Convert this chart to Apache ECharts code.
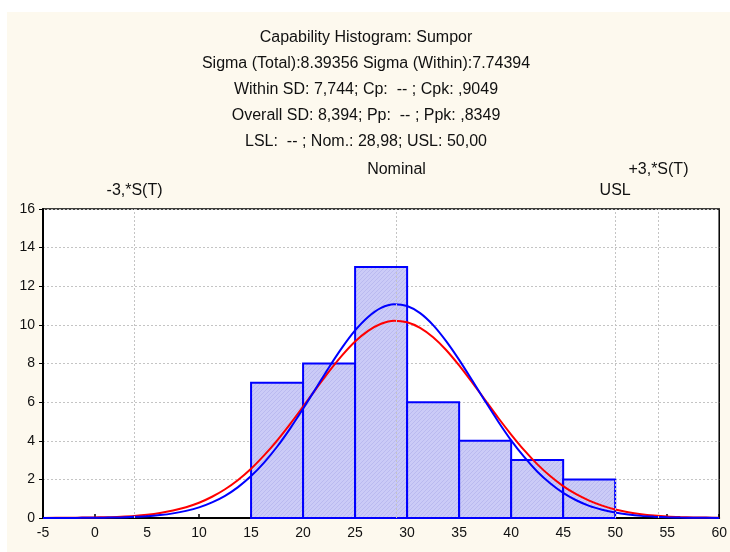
<!DOCTYPE html>
<html>
<head>
<meta charset="utf-8">
<script src="https://cdn.jsdelivr.net/npm/echarts@6/dist/echarts.min.js"></script>
<style>
  html, body { margin: 0; padding: 0; background: #ffffff; }
  #chart { width: 730px; height: 552px; }
</style>
</head>
<body>
<div id="chart"></div>
<script>
// Heading lines
const titleLines = [
  'Capability Histogram: Sumpor',
  'Sigma (Total):8.39356 Sigma (Within):7.74394',
  'Within SD: 7,744; Cp:  -- ; Cpk: ,9049',
  'Overall SD: 8,394; Pp:  -- ; Ppk: ,8349',
  'LSL:  -- ; Nom.: 28,98; USL: 50,00'
];

// Histogram bins (lower edge, upper edge) and counts
const binStart = [15, 20, 25, 30, 35, 40, 45];
const binEnd   = [20, 25, 30, 35, 40, 45, 50];
const counts   = [7, 8, 13, 6, 4, 3, 2];

// Fitted density curves (expected counts per bin), sampled every 1.25 units
const curveX = [-5, -3.75, -2.5, -1.25, 0, 1.25, 2.5, 3.75, 5, 6.25, 7.5, 8.75, 10, 11.25, 12.5, 13.75,
                15, 16.25, 17.5, 18.75, 20, 21.25, 22.5, 23.75, 25, 26.25, 27.5, 28.75, 30, 31.25,
                32.5, 33.75, 35, 36.25, 37.5, 38.75, 40, 41.25, 42.5, 43.75, 45, 46.25, 47.5, 48.75,
                50, 51.25, 52.5, 53.75, 55, 56.25, 57.5, 58.75, 60];
const withinFit = [0.00, 0.00, 0.00, 0.01, 0.01, 0.02, 0.03, 0.06, 0.09, 0.15, 0.24, 0.37, 0.55, 0.81, 1.15, 1.60,
                   2.17, 2.87, 3.69, 4.63, 5.66, 6.73, 7.81, 8.82, 9.71, 10.41, 10.88, 11.07, 10.98, 10.61,
                   9.99, 9.16, 8.19, 7.13, 6.05, 5.00, 4.02, 3.16, 2.41, 1.80, 1.30, 0.92, 0.63, 0.43,
                   0.28, 0.18, 0.11, 0.07, 0.04, 0.02, 0.01, 0.01, 0.00];
const totalFit  = [0.00, 0.01, 0.01, 0.02, 0.03, 0.04, 0.07, 0.11, 0.17, 0.26, 0.39, 0.56, 0.79, 1.10, 1.49, 1.97,
                   2.55, 3.24, 4.01, 4.86, 5.77, 6.69, 7.59, 8.42, 9.14, 9.69, 10.06, 10.22, 10.14, 9.85,
                   9.36, 8.70, 7.90, 7.02, 6.11, 5.19, 4.32, 3.51, 2.79, 2.17, 1.65, 1.23, 0.90, 0.64,
                   0.44, 0.30, 0.20, 0.13, 0.08, 0.05, 0.03, 0.02, 0.01];

// Reference lines: -3 sigma, nominal, USL, +3 sigma
const refNames  = ['-3,*S(T)', 'Nominal', 'USL', '+3,*S(T)'];
const refValues = [3.80, 28.98, 50.00, 54.16];
const refRow    = [0, 1, 0, 1]; // 1 = upper label row

const xTicks = { min: -5, max: 60, step: 5 };
const yTicks = { min: 0, max: 16, step: 2 };

const FONT = '"Liberation Sans", Arial, sans-serif';

// Hatched fill for the bars
function hatchPattern() {
  const c = document.createElement('canvas');
  c.width = 4; c.height = 4;
  const g = c.getContext('2d');
  g.fillStyle = '#cbcbf7';
  g.fillRect(0, 0, 4, 4);
  g.strokeStyle = '#babaf0';
  g.lineWidth = 1;
  g.beginPath();
  g.moveTo(0, 4); g.lineTo(4, 0);
  g.moveTo(-1, 1); g.lineTo(1, -1);
  g.moveTo(3, 5); g.lineTo(5, 3);
  g.stroke();
  return c;
}
const hatch = hatchPattern();

const chart = echarts.init(document.getElementById('chart'), null, { renderer: 'canvas' });

const toPairs = (xs, ys) => xs.map((x, i) => [x, ys[i]]);

const option = {
  animation: false,
  backgroundColor: '#ffffff',
  graphic: [{
    type: 'rect', z: -10, silent: true,
    shape: { x: 7, y: 12, width: 723, height: 540 },
    style: { fill: '#fdf9ee' }
  }],
  title: {
    text: titleLines.join('\n'),
    left: 361, top: 20, textAlign: 'center',
    textStyle: { fontFamily: FONT, fontSize: 16, fontWeight: 'normal', color: '#111', lineHeight: 26 }
  },
  grid: {
    left: 43, right: 10, top: 209, bottom: 34,
    show: true, backgroundColor: '#ffffff', borderColor: '#000', borderWidth: 1.5
  },
  xAxis: {
    type: 'value', min: xTicks.min, max: xTicks.max, interval: xTicks.step,
    axisLine: { show: true, onZero: false, lineStyle: { color: '#000', width: 2 } },
    axisTick: { show: true, inside: true, length: 4, lineStyle: { color: '#000', width: 1.5 } },
    axisLabel: { color: '#111', fontFamily: FONT, fontSize: 14, margin: 8 },
    splitLine: { show: false },
    minorSplitLine: { show: false }
  },
  yAxis: {
    type: 'value', min: yTicks.min, max: yTicks.max, interval: yTicks.step,
    axisLine: { show: true, onZero: false, lineStyle: { color: '#000', width: 2 } },
    axisTick: { show: true, inside: false, length: 4, lineStyle: { color: '#000', width: 1 } },
    axisLabel: { color: '#111', fontFamily: FONT, fontSize: 14, margin: 8 },
    splitLine: { show: true, lineStyle: { color: '#c4c4c4', type: [2, 2], width: 1 } }
  },
  series: [
    {
      type: 'line', name: 'refs', data: [], z: 1,
      markLine: {
        silent: true, symbol: 'none', animation: false,
        lineStyle: { color: '#c4c4c4', type: [2, 2], width: 1 },
        label: { show: true, position: 'end', color: '#111', fontFamily: FONT, fontSize: 16 },
        data: refValues.map((v, i) => ({
          xAxis: v,
          label: { formatter: refNames[i], distance: refRow[i] ? 31 : 10 }
        }))
      }
    },
    {
      type: 'custom', name: 'counts', z: 2,
      data: binStart.map((s, i) => [s, binEnd[i], counts[i]]),
      renderItem: function (params, api) {
        const tl = api.coord([api.value(0), api.value(2)]);
        const br = api.coord([api.value(1), 0]);
        return {
          type: 'rect',
          shape: { x: tl[0], y: tl[1], width: br[0] - tl[0], height: br[1] - tl[1] },
          style: { fill: { image: hatch, repeat: 'repeat' }, stroke: '#0000ff', lineWidth: 2 }
        };
      }
    },
    {
      type: 'line', name: 'Total', z: 3,
      data: toPairs(curveX, totalFit), smooth: 0.3, showSymbol: false,
      lineStyle: { color: '#ff0000', width: 2 }
    },
    {
      type: 'line', name: 'Within', z: 4,
      data: toPairs(curveX, withinFit), smooth: 0.3, showSymbol: false,
      lineStyle: { color: '#0000ff', width: 2 }
    }
  ]
};

chart.setOption(option);
</script>
</body>
</html>
